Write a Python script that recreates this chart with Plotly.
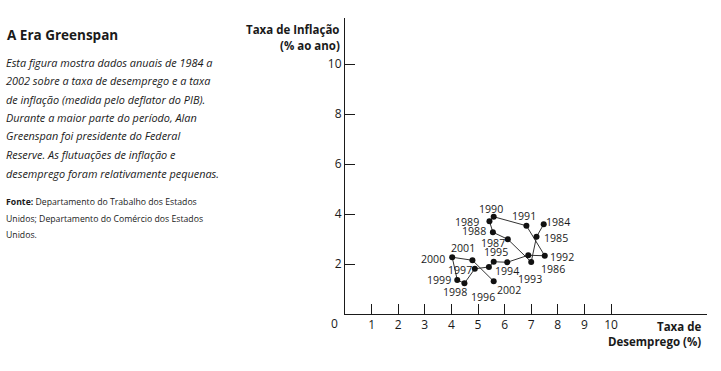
import plotly.graph_objects as go

# ---- data ----
years = [1984, 1985, 1986, 1987, 1988, 1989, 1990, 1991, 1992, 1993,
         1994, 1995, 1996, 1997, 1998, 1999, 2000, 2001, 2002]
unemployment = [7.47, 7.20, 7.00, 6.12, 5.56, 5.43, 5.59, 6.82, 7.51, 6.89,
                6.10, 5.59, 5.41, 4.88, 4.49, 4.22, 4.03, 4.79, 5.59]
inflation = [3.59, 3.09, 2.08, 2.99, 3.27, 3.71, 3.89, 3.53, 2.33, 2.35,
             2.07, 2.09, 1.88, 1.81, 1.23, 1.36, 2.27, 2.15, 1.31]
x_ticks = [1, 2, 3, 4, 5, 6, 7, 8, 9, 10]
y_ticks = [2, 4, 6, 8, 10]

# label offsets in pixels (dx right, dy down) - styling only
label_dx = [14, 19, 22, -15, -19, -22, -3, -2, 17, 2, 0, 2, -6, -15, -9, -18, -19, -9, 15]
label_dy = [-2, 1, 7, 4, -1, 1, -8, -10, 1, 24, 9, -10, 30, 1, 9, 0, 2, -12, 9]

W, H = 721, 371
FONT = "Open Sans"
INK = "#1a1a1a"

def px(x):
    return x / W

def py(y):
    return 1 - y / H

fig = go.Figure()
fig.add_trace(go.Scatter(
    x=unemployment, y=inflation, mode="lines+markers",
    line=dict(color="#333333", width=1),
    marker=dict(color="#111111", size=6),
    hoverinfo="skip", showlegend=False,
))

annotations = []
for yr, xv, yv, dx, dy in zip(years, unemployment, inflation, label_dx, label_dy):
    annotations.append(dict(
        x=xv, y=yv, xref="x", yref="y", text=str(yr), showarrow=False,
        xshift=dx, yshift=-dy, xanchor="center", yanchor="middle",
        font=dict(family=FONT, size=10.6, color=INK),
    ))

# axis titles
annotations += [
    dict(x=px(342), y=py(30), xref="paper", yref="paper", text="<b>Taxa de Inflação</b>",
         showarrow=False, xanchor="right", yanchor="middle",
         font=dict(family=FONT, size=11.5, color=INK)),
    dict(x=px(342), y=py(45), xref="paper", yref="paper", text="<b>(% ao ano)</b>",
         showarrow=False, xanchor="right", yanchor="middle",
         font=dict(family=FONT, size=11.5, color=INK)),
    dict(x=px(703), y=py(326), xref="paper", yref="paper", text="<b>Taxa de</b>",
         showarrow=False, xanchor="right", yanchor="middle",
         font=dict(family=FONT, size=11.5, color=INK)),
    dict(x=px(703), y=py(341.5), xref="paper", yref="paper", text="<b>Desemprego (%)</b>",
         showarrow=False, xanchor="right", yanchor="middle",
         font=dict(family=FONT, size=11.5, color=INK)),
    dict(x=px(334), y=py(323), xref="paper", yref="paper", text="0",
         showarrow=False, xanchor="center", yanchor="middle",
         font=dict(family=FONT, size=12, color=INK)),
]

# left side text
annotations.append(dict(
    x=px(5), y=py(35), xref="paper", yref="paper", text="<b>A Era Greenspan</b>",
    showarrow=False, xanchor="left", yanchor="middle",
    font=dict(family=FONT, size=13.5, color=INK)))

para = ["Esta figura mostra dados anuais de 1984 a",
        "2002 sobre a taxa de desemprego e a taxa",
        "de inflação (medida pelo deflator do PIB).",
        "Durante a maior parte do período, Alan",
        "Greenspan foi presidente do Federal",
        "Reserve. As flutuações de inflação e",
        "desemprego foram relativamente pequenas."]
for i, line in enumerate(para):
    annotations.append(dict(
        x=px(4), y=py(62 + 18.5 * i), xref="paper", yref="paper",
        text="<i>" + line + "</i>", showarrow=False, xanchor="left", yanchor="middle",
        font=dict(family=FONT, size=10.9, color=INK)))

fonte = ["<b>Fonte:</b> Departamento do Trabalho dos Estados",
         "Unidos; Departamento do Comércio dos Estados",
         "Unidos."]
for i, line in enumerate(fonte):
    annotations.append(dict(
        x=px(4), y=py(202 + 16.5 * i), xref="paper", yref="paper",
        text=line, showarrow=False, xanchor="left", yanchor="middle",
        font=dict(family=FONT, size=8.7, color=INK)))

x0, x1 = 345, 707
y0, y1 = 314, 18
fig.update_layout(
    width=W, height=H,
    margin=dict(l=0, r=0, t=0, b=0, autoexpand=False),
    paper_bgcolor="white", plot_bgcolor="white",
    annotations=annotations,
    xaxis=dict(domain=[x0 / W, x1 / W], range=[0, (x1 - x0) / 26.6], automargin=False,
               tickvals=x_ticks, ticks="inside", ticklen=10, tickcolor=INK,
               showline=True, linecolor=INK, linewidth=1, showgrid=False, zeroline=False,
               tickfont=dict(family=FONT, size=12, color=INK), fixedrange=True),
    yaxis=dict(domain=[1 - y0 / H, 1 - y1 / H], range=[0, (y0 - y1) / 25.0], automargin=False,
               tickvals=y_ticks, ticks="inside", ticklen=10, tickcolor=INK,
               showline=True, linecolor=INK, linewidth=1, showgrid=False, zeroline=False,
               tickfont=dict(family=FONT, size=12, color=INK), fixedrange=True),
)

fig.write_html("out.html", config={"displayModeBar": False},
               post_script="document.body.style.margin='0';document.body.style.overflow='hidden';")
